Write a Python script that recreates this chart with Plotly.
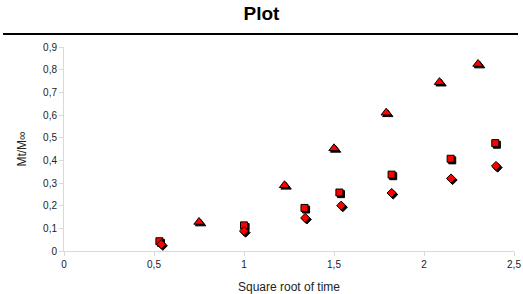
import plotly.graph_objects as go

# Data
tri_x = [0.75, 1.225, 1.5, 1.79, 2.086, 2.3]
tri_y = [0.128, 0.29, 0.453, 0.61, 0.745, 0.825]

sq_x = [0.53, 1.0, 1.336, 1.53, 1.82, 2.148, 2.396]
sq_y = [0.043, 0.113, 0.19, 0.258, 0.337, 0.407, 0.476]

dia_x = [0.54, 1.0, 1.34, 1.54, 1.82, 2.15, 2.4]
dia_y = [0.03, 0.088, 0.146, 0.2, 0.256, 0.32, 0.375]

x_ticks = [0, 0.5, 1, 1.5, 2, 2.5]
x_labels = ["0", "0,5", "1", "1,5", "2", "2,5"]
y_ticks = [0, 0.1, 0.2, 0.3, 0.4, 0.5, 0.6, 0.7, 0.8, 0.9]
y_labels = ["0", "0,1", "0,2", "0,3", "0,4", "0,5", "0,6", "0,7", "0,8", "0,9"]

W, H = 523, 294
ml, mr, mt, mb = 64, 9, 47, 43
pw = W - ml - mr
ph = H - mt - mb
XR = [0, 2.5]
YR = [0, 0.9]
shift = 1.6
dx = shift * (XR[1] - XR[0]) / pw
dy = shift * (YR[1] - YR[0]) / ph

series = [
    (tri_x, tri_y, "triangle-up", 9),
    (sq_x, sq_y, "square", 7),
    (dia_x, dia_y, "diamond", 7),
]

fig = go.Figure()
# drop shadows on the (hidden) base axes, shifted slightly right/down
for xs, ys, sym, sz in series:
    fig.add_trace(go.Scatter(x=xs, y=ys, mode="markers", xaxis="x", yaxis="y",
                             marker=dict(symbol=sym, size=sz, color="black",
                                         line=dict(width=1, color="black")),
                             hoverinfo="skip", showlegend=False))
# red markers on the visible overlay axes
for xs, ys, sym, sz in series:
    fig.add_trace(go.Scatter(x=xs, y=ys, mode="markers", xaxis="x2", yaxis="y2",
                             marker=dict(symbol=sym, size=sz, color="#ff0000",
                                         line=dict(width=1, color="black")),
                             showlegend=False))

font = "Liberation Sans, Arial, sans-serif"
fig.update_layout(
    width=W, height=H,
    margin=dict(l=ml, r=mr, t=mt, b=mb, autoexpand=False),
    paper_bgcolor="white", plot_bgcolor="white",
    font=dict(family=font, size=10, color="#222"),
    title=dict(text="<b>Plot</b>", x=0.5, xanchor="center", y=0.955, yanchor="middle",
               font=dict(family=font, size=19, color="black")),
    xaxis=dict(range=[XR[0] - dx, XR[1] - dx], visible=False, automargin=False),
    yaxis=dict(range=[YR[0] + dy, YR[1] + dy], visible=False, automargin=False),
    xaxis2=dict(range=XR, overlaying="x", tickvals=x_ticks, ticktext=x_labels, showgrid=False,
                zeroline=False, showline=True, linecolor="#d9d9d9", linewidth=1,
                ticks="outside", ticklen=4, tickcolor="#d9d9d9", automargin=False,
                title=dict(text="Square root of time", font=dict(size=12, color="#222"), standoff=13)),
    yaxis2=dict(range=YR, overlaying="y", tickvals=y_ticks, ticktext=y_labels, showgrid=False,
                zeroline=False, showline=True, linecolor="#d9d9d9", linewidth=1,
                ticks="outside", ticklen=4, tickcolor="#d9d9d9", automargin=False,
                title=dict(text="Mt/M∞", font=dict(size=12, color="#222"), standoff=13)),
    shapes=[dict(type="line", xref="paper", yref="paper",
                 x0=(3 - ml) / pw, x1=(518 - ml) / pw,
                 y0=(H - mb - 34) / ph, y1=(H - mb - 34) / ph,
                 line=dict(color="black", width=2))],
)

fig.write_html("out.html", config={"displayModeBar": False},
               post_script="document.body.style.margin='0';document.body.style.overflow='hidden';")
